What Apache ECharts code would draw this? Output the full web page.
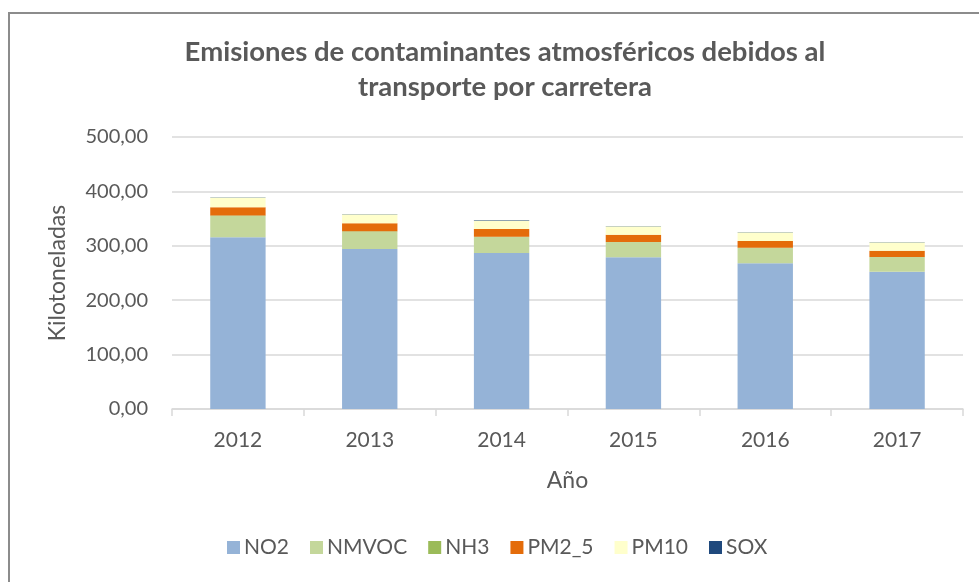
<!DOCTYPE html>
<html>
<head>
<meta charset="utf-8">
<script src="https://cdn.jsdelivr.net/npm/echarts@6/dist/echarts.min.js"></script>
<style>
html,body{margin:0;padding:0;background:#fff;}
#frame{position:absolute;left:8px;top:12px;width:1000px;height:600px;border-left:2px solid #8c8c8c;border-top:2px solid #8c8c8c;box-sizing:border-box;}
#chart{position:absolute;left:0;top:0;width:979px;height:582px;}
</style>
</head>
<body>
<div id="frame"></div>
<div id="chart"></div>
<script>
const categories = ['2012', '2013', '2014', '2015', '2016', '2017'];
const NO2   = [315.6, 294.1, 286.8, 278.8, 267.8, 252.4];
const NMVOC = [39.0, 31.9, 28.8, 27.6, 27.6, 26.4];
const NH3   = [1.0, 0.9, 0.9, 0.8, 0.8, 0.8];
const PM2_5 = [15.2, 14.5, 14.3, 13.2, 12.6, 11.4];
const PM10  = [17.8, 16.5, 15.9, 15.4, 16.0, 15.4];
const SOX   = [0.6, 0.6, 0.6, 0.6, 0.6, 0.6];
const yTicks = [0, 100, 200, 300, 400, 500];

const FONT = 'Lato, "Open Sans", sans-serif';
const seriesDefs = [
  ['NO2', NO2, '#95B3D7'],
  ['NMVOC', NMVOC, '#C4D79B'],
  ['NH3', NH3, '#9BBB59'],
  ['PM2_5', PM2_5, '#E46C0A'],
  ['PM10', PM10, '#FFFFCC'],
  ['SOX', SOX, '#1F497D']
];

const chart = echarts.init(document.getElementById('chart'), null, {renderer: 'canvas'});
chart.setOption({
  animation: false,
  backgroundColor: 'transparent',
  title: {
    text: 'Emisiones de contaminantes atmosféricos debidos al\ntransporte por carretera',
    left: 500,
    textAlign: 'center',
    top: 30,
    textStyle: {fontFamily: FONT, fontSize: 27.5, fontWeight: 'bold', color: '#595959', lineHeight: 35}
  },
  legend: {
    bottom: 19,
    left: 222,
    itemWidth: 13,
    itemHeight: 13,
    itemGap: 21,
    icon: 'rect',
    textStyle: {fontFamily: FONT, fontSize: 21, color: '#595959', padding: [0, 0, 0, -1]},
    data: seriesDefs.map(d => d[0])
  },
  grid: {left: 172, right: 16, top: 137, bottom: 173, containLabel: false},
  xAxis: {
    type: 'category',
    data: categories,
    name: 'Año',
    nameLocation: 'middle',
    nameGap: 60,
    nameTextStyle: {fontFamily: FONT, fontSize: 23, color: '#595959'},
    axisLine: {lineStyle: {color: '#d9d9d9', width: 1.5}},
    axisTick: {show: true, length: 7, lineStyle: {color: '#d9d9d9', width: 1.5}},
    axisLabel: {fontFamily: FONT, fontSize: 21, color: '#595959', margin: 21}
  },
  yAxis: {
    type: 'value',
    min: 0,
    max: 500,
    interval: 100,
    name: 'Kilotoneladas',
    nameLocation: 'middle',
    nameGap: 103,
    nameTextStyle: {fontFamily: FONT, fontSize: 23, color: '#595959'},
    axisLine: {show: false},
    axisTick: {show: false},
    splitLine: {lineStyle: {color: '#d9d9d9', width: 1.5}},
    axisLabel: {
      fontFamily: FONT, fontSize: 20, color: '#595959', margin: 24,
      formatter: v => yTicks.includes(v) ? v.toFixed(2).replace('.', ',') : ''
    }
  },
  series: seriesDefs.map(d => ({
    name: d[0],
    type: 'bar',
    stack: 'total',
    data: d[1],
    barWidth: '42%',
    itemStyle: {color: d[2]}
  }))
});
</script>
</body>
</html>
